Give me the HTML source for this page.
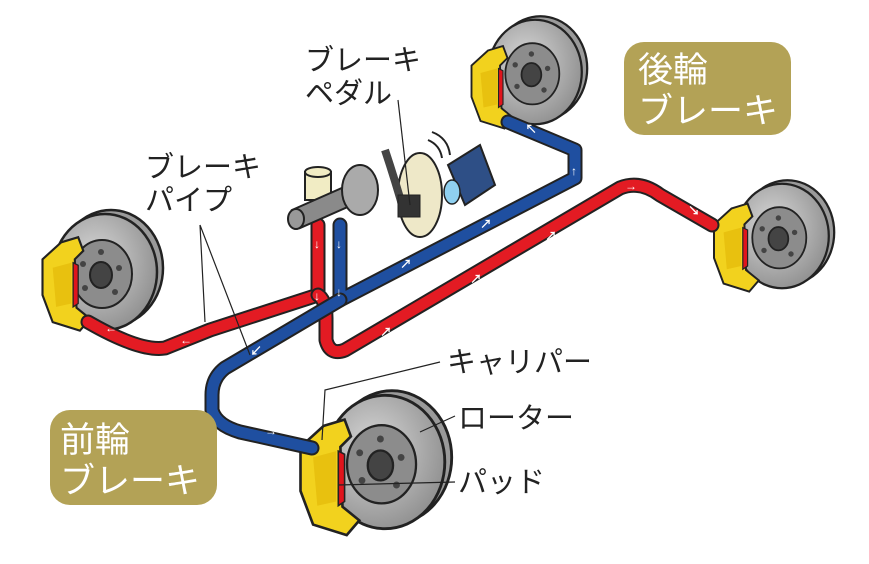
<!DOCTYPE html>
<html><head><meta charset="utf-8"><style>
html,body{margin:0;padding:0;background:#fff}
svg{display:block}
text{font-family:"Liberation Sans","Noto Sans CJK JP",sans-serif}
</style></head><body>
<svg width="869" height="564" viewBox="0 0 869 564" xmlns="http://www.w3.org/2000/svg">
<defs>
<radialGradient id="dg" cx="0.4" cy="0.4" r="0.7"><stop offset="0" stop-color="#d8d8d8"/><stop offset="1" stop-color="#8a8a8a"/></radialGradient>
<g id="wheel">
 <ellipse cx="6" cy="-4" rx="52" ry="58" fill="#9a9a9a" stroke="#222" stroke-width="2.5"/>
 <ellipse cx="0" cy="0" rx="52" ry="58" fill="url(#dg)" stroke="#222" stroke-width="2.5"/>
 <ellipse cx="-3" cy="2" rx="30" ry="34" fill="#8c8c8c" stroke="#222" stroke-width="2"/>
 <ellipse cx="-4" cy="3" rx="11" ry="13" fill="#444" stroke="#222" stroke-width="2"/>
 <circle cx="-4" cy="-20" r="3" fill="#444"/><circle cx="14" cy="-4" r="3" fill="#444"/>
 <circle cx="10" cy="20" r="3" fill="#444"/><circle cx="-20" cy="16" r="3" fill="#444"/><circle cx="-22" cy="-8" r="3" fill="#444"/>
</g>
<g id="cal">
 <path d="M-8,-42 L12,-48 L18,-32 L8,-22 L10,35 L26,48 L14,62 L-18,52 L-30,20 L-30,-22 Z" fill="#f2d21e" stroke="#222" stroke-width="2.5"/>
 <path d="M-18,-12 L4,-18 L4,30 L-14,34 Z" fill="#e8c10f"/>
 <path d="M6,-18 L12,-15 L12,30 L6,34 Z" fill="#e0141c" stroke="#222" stroke-width="1.5"/>
</g>
</defs>

<!-- wheels -->
<g transform="translate(105,272)"><use href="#wheel"/></g>
<g transform="translate(68,278) scale(0.85)"><use href="#cal"/></g>
<g transform="translate(535,72) scale(0.9)"><use href="#wheel"/></g>
<g transform="translate(494,82) scale(0.75)"><use href="#cal"/></g>
<g transform="translate(782,236) scale(0.9)"><use href="#wheel"/></g>
<g transform="translate(738,242) scale(0.8)"><use href="#cal"/></g>
<g transform="translate(385,462) scale(1.15)"><use href="#wheel"/></g>
<g transform="translate(332,470) scale(1.05)"><use href="#cal"/></g>

<!-- pipes -->
<g fill="none" stroke-linejoin="round" stroke-linecap="round">
 <path d="M318,225 L318,295 L210,330 L165,348 Q140,352 88,322" stroke="#222" stroke-width="15"/>
 <path d="M318,225 L318,295 L210,330 L165,348 Q140,352 88,322" stroke="#e31b23" stroke-width="11"/>
 <path d="M318,295 Q326,300 326,318 L326,340 Q330,356 345,350 L620,188 Q640,180 660,195 L712,225" stroke="#222" stroke-width="15"/>
 <path d="M318,295 Q326,300 326,318 L326,340 Q330,356 345,350 L620,188 Q640,180 660,195 L712,225" stroke="#e31b23" stroke-width="11"/>
 <path d="M340,225 L340,300 L575,178 L575,150 L508,122" stroke="#222" stroke-width="15"/>
 <path d="M340,225 L340,300 L575,178 L575,150 L508,122" stroke="#1f4fa0" stroke-width="11"/>
 <path d="M340,300 L225,368 Q212,378 212,395 L212,410 Q216,425 240,432 L312,448" stroke="#222" stroke-width="15"/>
 <path d="M340,300 L225,368 Q212,378 212,395 L212,410 Q216,425 240,432 L312,448" stroke="#1f4fa0" stroke-width="11"/>
</g>
<g fill="#fff" font-size="12" font-weight="bold">
 <text x="314" y="248">↓</text><text x="314" y="300">↓</text><text x="336" y="248">↓</text><text x="336" y="296">↓</text>
 <text x="180" y="344">←</text><text x="105" y="332">←</text><text x="380" y="336">↗</text><text x="470" y="283">↗</text><text x="545" y="240">↗</text><text x="625" y="190">→</text><text x="688" y="215">↘</text>
 <text x="400" y="268">↗</text><text x="480" y="228">↗</text><text x="571" y="175">↑</text><text x="525" y="133">↖</text>
 <text x="250" y="355">↙</text><text x="265" y="435">→</text>
</g>

<!-- master cylinder / booster / pedal -->
<rect x="305" y="172" width="26" height="28" fill="#f1ecc4" stroke="#222" stroke-width="2"/>
<ellipse cx="318" cy="172" rx="13" ry="5" fill="#f1ecc4" stroke="#222" stroke-width="2"/>
<path d="M292,210 L360,180 L368,198 L300,228 Z" fill="#8a8a8a" stroke="#222" stroke-width="2"/>
<ellipse cx="296" cy="219" rx="8" ry="10" fill="#999" stroke="#222" stroke-width="2"/>
<ellipse cx="360" cy="190" rx="18" ry="25" fill="#aaa" stroke="#222" stroke-width="2"/>
<ellipse cx="420" cy="195" rx="22" ry="42" fill="#eee8c8" stroke="#222" stroke-width="2"/>
<path d="M385,150 Q395,180 405,215" stroke="#444" stroke-width="8" fill="none"/>
<rect x="398" y="195" width="22" height="22" fill="#333" stroke="#222"/>
<path d="M448,165 L480,145 L495,185 L465,205 Z" fill="#2e4f86" stroke="#222" stroke-width="2"/>
<ellipse cx="452" cy="192" rx="8" ry="12" fill="#8fd0f0" stroke="#222" stroke-width="1.5"/>
<path d="M428,140 Q440,145 442,158 M432,132 Q448,138 450,155" stroke="#222" stroke-width="2" fill="none"/>

<!-- leader lines -->
<g stroke="#222" stroke-width="1.2" fill="none">
 <path d="M398,100 L410,205"/>
 <path d="M200,225 L205,322 M200,225 L250,355"/>
 <path d="M440,362 L325,390 L322,440"/>
 <path d="M455,416 L420,432"/>
 <path d="M455,482 L338,485"/>
</g>

<!-- labels -->
<g font-size="29" fill="#222">
 <text x="305" y="70">ブレーキ</text><text x="305" y="103">ペダル</text>
 <text x="145" y="177">ブレーキ</text><text x="145" y="210">パイプ</text>
 <text x="447" y="372">キャリパー</text>
 <text x="458" y="428">ローター</text>
 <text x="458" y="492">パッド</text>
</g>
<rect x="624" y="42" width="167" height="93" rx="20" fill="#b3a256"/>
<text x="638" y="82" font-size="35" fill="#fff">後輪</text>
<text x="638" y="123" font-size="35" fill="#fff">ブレーキ</text>
<rect x="50" y="410" width="167" height="95" rx="20" fill="#b3a256"/>
<text x="60" y="452" font-size="35" fill="#fff">前輪</text>
<text x="60" y="493" font-size="35" fill="#fff">ブレーキ</text>
</svg>
</body></html>
